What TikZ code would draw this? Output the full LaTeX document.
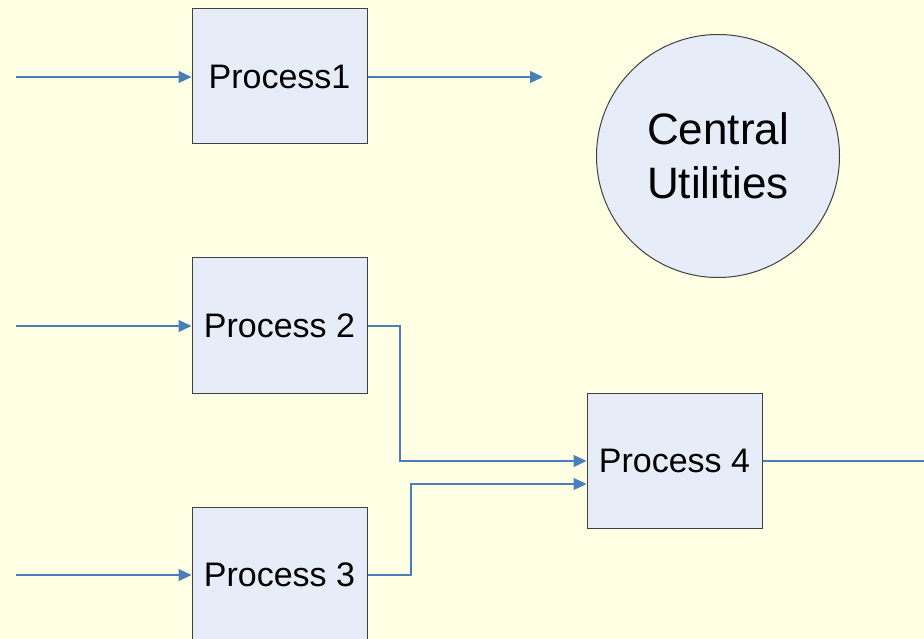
\documentclass[tikz,border=0pt]{standalone}
\usepackage{fontspec}
\setmainfont{Liberation Sans}
\usetikzlibrary{arrows.meta}
\definecolor{bgyellow}{HTML}{FFFFE3}
\definecolor{boxfill}{HTML}{E6ECF8}
\definecolor{flowblue}{HTML}{4A7EBB}
\tikzset{
  procbox/.style={draw=black!75, line width=1pt, fill=boxfill, minimum width=175pt, minimum height=135pt, inner sep=0pt, font=\fontsize{34}{40}\selectfont},
  flow/.style={draw=flowblue, line width=1.2pt, -{Triangle[length=13pt,width=12pt]}},
  plain/.style={draw=flowblue, line width=1.2pt},
}
\begin{document}
\begin{tikzpicture}[x=1pt,y=-1pt]
  \fill[bgyellow] (0,0) rectangle (924,639);
  \useasboundingbox (0,0) rectangle (924,639);
  \clip (0,0) rectangle (924,639);

  % process boxes
  \node[procbox] (p1) at (279.5,76.5) {Process1};
  \node[procbox] (p2) at (279.5,325.5) {Process 2};
  \node[procbox] (p3) at (279.5,574.5) {Process 3};
  \node[procbox] (p4) at (674.5,460.5) {Process 4};

  % central utilities
  \node[circle, draw=black!75, line width=1pt, fill=boxfill, minimum size=243pt, inner sep=0pt,
        align=center, font=\fontsize{44}{54}\selectfont] (cu) at (718,156) {Central\\Utilities};

  % feed lines
  \coordinate (in1) at (16,77);
  \coordinate (in2) at (16,326);
  \coordinate (in3) at (16,575);
  \coordinate (out1) at (543,77);
  \coordinate (out4) at (924,461);
  \draw[flow] (in1) -- (p1.west |- in1);
  \draw[flow] (in2) -- (p2.west |- in2);
  \draw[flow] (in3) -- (p3.west |- in3);
  \draw[flow] (p1.east |- out1) -- (out1);

  % merge into process 4
  \draw[flow] (p2.east |- in2) -| (400,461) -- (p4.west |- 0,461);
  \draw[flow] (p3.east |- in3) -| (411,484) -- (p4.west |- 0,484);

  % product line
  \draw[plain] (p4.east |- out4) -- (out4);
\end{tikzpicture}
\end{document}
